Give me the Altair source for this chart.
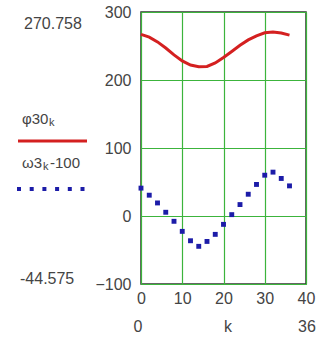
import altair as alt
import pandas as pd

# data
k = [0, 2, 4, 6, 8, 10, 12, 14, 16, 18, 20, 22, 24, 26, 28, 30, 32, 34, 36]
phi30 = [267, 263, 256, 247, 237, 228, 222, 219.5, 220, 225, 233, 242, 251,
         259, 265, 269.5, 270.7, 269, 266]
omega3 = [41, 30.6, 19.2, 5.5, -7.8, -22.6, -36.4, -44.6, -37.4, -27, -12.3,
          2, 16.8, 32, 46.4, 60, 64.5, 55.2, 44.3]
x_ticks = [0, 10, 20, 30, 40]
y_ticks = [-100, 0, 100, 200, 300]
top_label = ["270.758"]
bottom_label = ["-44.575"]
x_marks = ["0", "k", "36"]

FONT = "Liberation Sans"
TXT = "#444444"
GRID = "#3cb43c"

df = pd.DataFrame({"k": k, "phi": phi30, "om": omega3})

xs = alt.Scale(domain=[0, 40], nice=False, zero=False)
ys = alt.Scale(domain=[-100, 300], nice=False, zero=False)

base = alt.Chart(df)

red = base.mark_line(color="#d42020", strokeWidth=3).encode(
    x=alt.X("k:Q", scale=xs, axis=alt.Axis(
        values=x_ticks, title=None, grid=True, gridColor=GRID, gridWidth=1.2,
        tickSize=0, labelPadding=6, labelFontSize=16, labelColor=TXT,
        labelFont=FONT, labelFlush=False, domain=False)),
    y=alt.Y("phi:Q", scale=ys, axis=alt.Axis(
        values=y_ticks, title=None, grid=True, gridColor=GRID, gridWidth=1.2,
        tickSize=0, labelPadding=10, labelFontSize=16, labelColor=TXT,
        labelFont=FONT, labelFlush=False, domain=False)),
)

blue = base.mark_square(color="#1c1ca8", size=24, opacity=1).encode(
    x=alt.X("k:Q", scale=xs),
    y=alt.Y("om:Q", scale=ys),
)


def txt(s, x, y, size=15, align="left"):
    return alt.Chart(pd.DataFrame({"t": [s]})).mark_text(
        font=FONT, fontSize=size, color=TXT, align=align, baseline="middle"
    ).encode(x=alt.value(x), y=alt.value(y), text="t:N")


legend_line = alt.Chart(pd.DataFrame({"a": [0]})).mark_rule(
    color="#d42020", strokeWidth=3
).encode(x=alt.value(-123), x2=alt.value(-54), y=alt.value(129))

legend_dots = alt.Chart(pd.DataFrame({"a": [0]})).mark_rule(
    color="#1c1ca8", strokeWidth=4, strokeDash=[4, 8.7]
).encode(x=alt.value(-124), x2=alt.value(-56), y=alt.value(177))

texts = [
    txt(top_label[0], -117, 12, 16),
    txt("φ30", -119, 107, 15),
    txt("k", -92, 111, 11),
    txt("ω3", -119, 151, 15),
    txt("k", -98, 155, 11),
    txt("-100", -91, 151, 15),
    txt(bottom_label[0], -121, 267, 16),
    txt(x_marks[0], -3, 315, 16, "center"),
    txt(x_marks[1], 87, 315, 16, "center"),
    txt(x_marks[2], 166, 315, 16, "center"),
]

chart = alt.layer(red, blue, legend_line, legend_dots, *texts).properties(
    width=165, height=272,
    padding={"left": 141, "top": 12, "right": 23, "bottom": 60},
    autosize=alt.AutoSizeParams(type="none"),
    background="white",
).configure_view(stroke="#333333", strokeWidth=1.5)

chart.save("out.html", embed_options={"renderer": "svg", "actions": False})
